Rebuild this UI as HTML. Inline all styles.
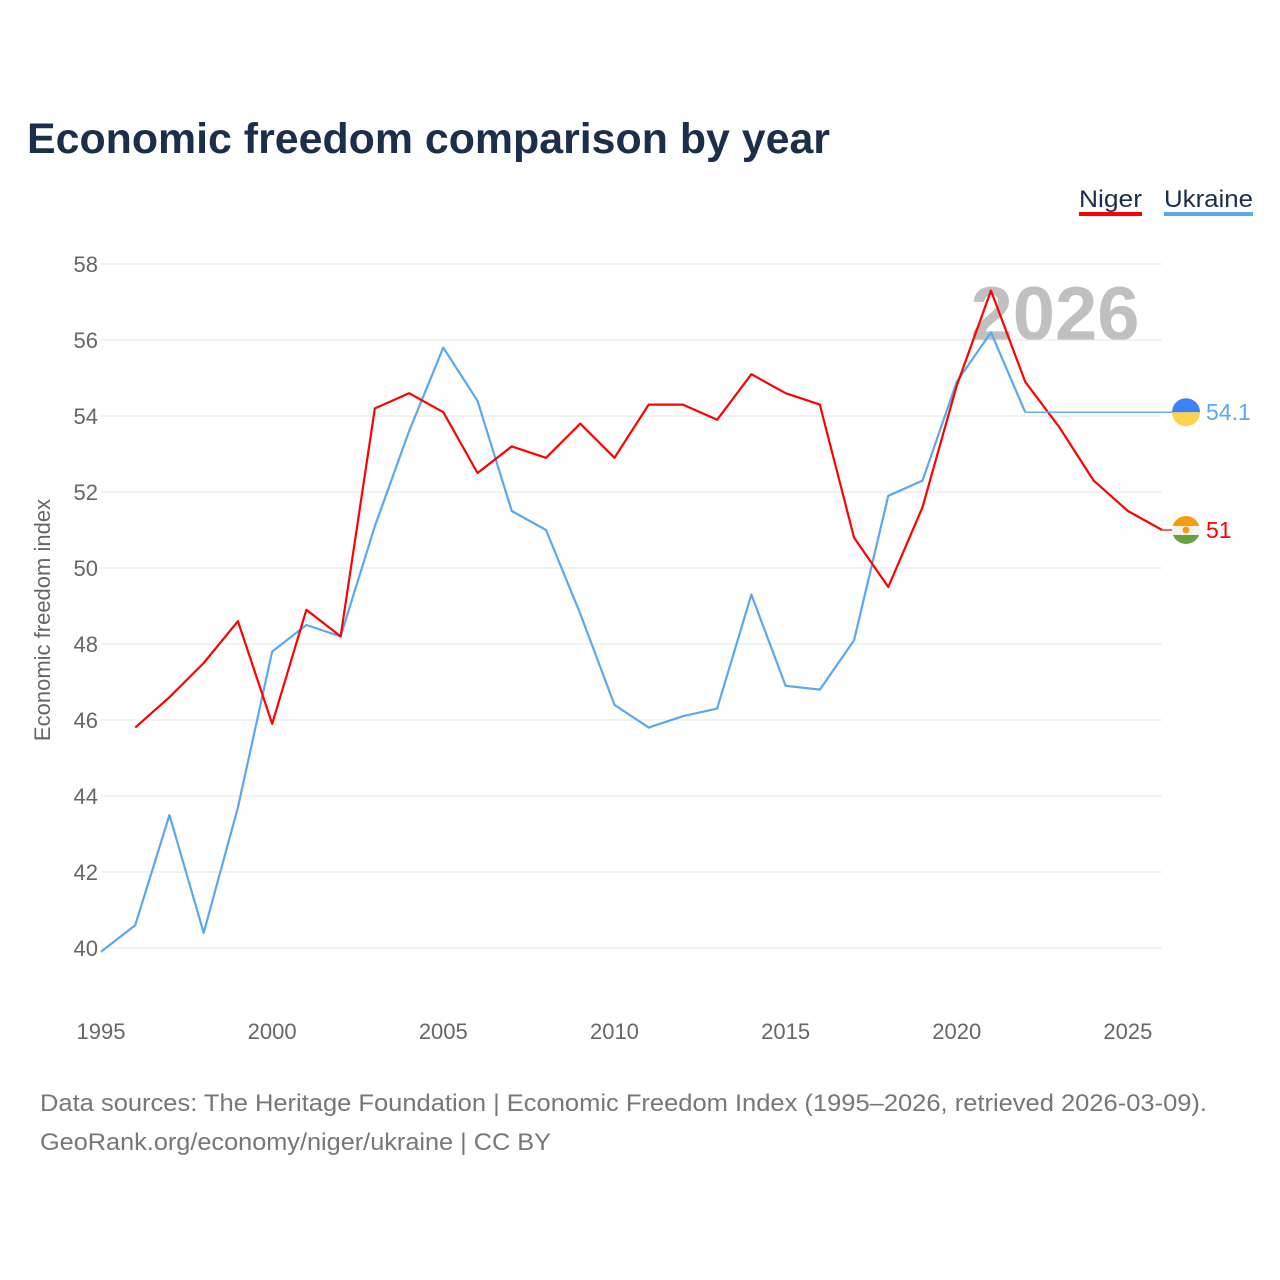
<!DOCTYPE html>
<html><head><meta charset="utf-8"><style>
body{margin:0;background:#fff;font-family:"Liberation Sans",sans-serif;}
svg{display:block}
</style></head><body>
<svg id="chart" width="1280" height="1280" viewBox="0 0 1280 1280">
<text x="27" y="153" font-size="43" font-weight="bold" fill="#1b2e4b" textLength="803" lengthAdjust="spacingAndGlyphs">Economic freedom comparison by year</text>
<g>
<text x="1079" y="207" font-size="24" fill="#1b2e4b" textLength="63" lengthAdjust="spacingAndGlyphs">Niger</text>
<rect x="1079" y="212" width="63" height="4" fill="#ff0000"/>
<text x="1164" y="207" font-size="24" fill="#1b2e4b" textLength="89" lengthAdjust="spacingAndGlyphs">Ukraine</text>
<rect x="1164" y="212" width="89" height="4" fill="#5ca8ee"/>
</g>
<text x="1055" y="340" font-size="76" font-weight="bold" fill="#c0c0c0" text-anchor="middle">2026</text>
<g id="grid"></g>
<g id="series"></g>
<text transform="translate(50,620) rotate(-90)" font-size="22" fill="#666" text-anchor="middle">Economic freedom index</text>
<text x="40" y="1111" font-size="24" fill="#777" textLength="1167" lengthAdjust="spacingAndGlyphs">Data sources: The Heritage Foundation | Economic Freedom Index (1995–2026, retrieved 2026-03-09).</text>
<text x="40" y="1150" font-size="24" fill="#777" textLength="511" lengthAdjust="spacingAndGlyphs">GeoRank.org/economy/niger/ukraine | CC BY</text>
</svg>
<script>
const yTicks=[40,42,44,46,48,50,52,54,56,58];
const xTicks=[1995,2000,2005,2010,2015,2020,2025];
const ukraineYears=[1995,1996,1997,1998,1999,2000,2001,2002,2003,2004,2005,2006,2007,2008,2009,2010,2011,2012,2013,2014,2015,2016,2017,2018,2019,2020,2021,2022];
const ukraineVals=[39.9,40.6,43.5,40.4,43.7,47.8,48.5,48.2,51.1,53.6,55.8,54.4,51.5,51.0,48.8,46.4,45.8,46.1,46.3,49.3,46.9,46.8,48.1,51.9,52.3,54.9,56.2,54.1];
const nigerYears=[1996,1997,1998,1999,2000,2001,2002,2003,2004,2005,2006,2007,2008,2009,2010,2011,2012,2013,2014,2015,2016,2017,2018,2019,2020,2021,2022,2023,2024,2025,2026];
const nigerVals=[45.8,46.6,47.5,48.6,45.9,48.9,48.2,54.2,54.6,54.1,52.5,53.2,52.9,53.8,52.9,54.3,54.3,53.9,55.1,54.6,54.3,50.8,49.5,51.6,54.8,57.3,54.9,53.7,52.3,51.5,51.0];
const ukraineLast=54.1, nigerLast=51;
const NS="http://www.w3.org/2000/svg";
const X=y=>101+(y-1995)*34.23;
const Y=v=>948-(v-40)*38;
function mk(t,a,p){const e=document.createElementNS(NS,t);for(const k in a)e.setAttribute(k,a[k]);p.appendChild(e);return e;}
const g=document.getElementById('grid'), s=document.getElementById('series');
yTicks.forEach(v=>{
 const l=mk('line',{x1:101,x2:1162,y1:Y(v),y2:Y(v),stroke:'#e6e6e6','stroke-width':1},g);
 
 
 const t=mk('text',{x:98,y:Y(v)+8,'font-size':22,fill:'#666','text-anchor':'end'},g);t.textContent=v;
 
 
});
xTicks.forEach(v=>{
 const t=mk('text',{x:X(v),y:1039,'font-size':22,fill:'#666','text-anchor':'middle'},g);t.textContent=v;
 
 
});
function line(ys,vs,c,name){
 const p=mk('polyline',{points:ys.map((y,i)=>X(y)+','+Y(vs[i])).join(' '),fill:'none',stroke:c,'stroke-width':2.2,'stroke-linejoin':'round'},s);
 
 
}
line(ukraineYears,ukraineVals,'#5ca8ee','ukraine-line');
line(nigerYears,nigerVals,'#ff0000','niger-line');
const mx=1186;
const c1=mk('line',{x1:X(ukraineYears[ukraineYears.length-1]),x2:mx,y1:Y(ukraineLast),y2:Y(ukraineLast),stroke:'#5ca8ee','stroke-width':1.3},s);


const c2=mk('line',{x1:X(nigerYears[nigerYears.length-1]),x2:mx,y1:Y(nigerLast),y2:Y(nigerLast),stroke:'#ff0000','stroke-width':1.3},s);


const uy=Y(ukraineLast);
const fu=mk('g',{},s);


mk('path',{d:`M${mx-14},${uy} a14,14 0 0,1 28,0 z`,fill:'#3b82f6'},fu);
mk('path',{d:`M${mx-14},${uy} a14,14 0 0,0 28,0 z`,fill:'#fcd34d'},fu);
const tu=mk('text',{x:1206,y:uy+8,'font-size':23,fill:'#5ca8ee'},s);tu.textContent=ukraineLast;


const ny=Y(nigerLast);
const fn=mk('g',{},s);


mk('clipPath',{id:'nc'},fn);mk('circle',{cx:mx,cy:ny,r:14},fn.lastChild);
const gg=mk('g',{'clip-path':'url(#nc)'},fn);
mk('rect',{x:mx-14,y:ny-14,width:28,height:10,fill:'#f59e0b'},gg);
mk('rect',{x:mx-14,y:ny-4,width:28,height:9,fill:'#f3f3f3'},gg);
mk('rect',{x:mx-14,y:ny+5,width:28,height:10,fill:'#65a33a'},gg);
mk('circle',{cx:mx,cy:ny,r:3.5,fill:'#f59e0b'},gg);
const tn=mk('text',{x:1206,y:ny+8,'font-size':23,fill:'#ff0000'},s);tn.textContent=nigerLast;


</script>
</body></html>
